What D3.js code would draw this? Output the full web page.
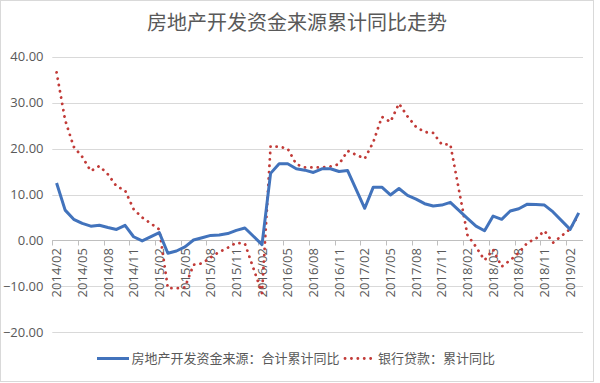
<!DOCTYPE html>
<html><head><meta charset="utf-8">
<script src="https://cdn.jsdelivr.net/npm/d3@7"></script>
<style>
html,body{margin:0;padding:0;background:#fff;}
text{font-family:"Open Sans","Noto Sans CJK SC",sans-serif;}
.cjk{font-family:"Noto Sans CJK SC","Noto Sans",sans-serif;}
</style></head>
<body>
<svg id="chart" width="600" height="383"></svg>
<script>
const categories = [
"2014/02","2014/03","2014/04","2014/05","2014/06","2014/07","2014/08","2014/09","2014/10","2014/11","2014/12",
"2015/01","2015/02","2015/03","2015/04","2015/05","2015/06","2015/07","2015/08","2015/09","2015/10","2015/11","2015/12",
"2016/01","2016/02","2016/03","2016/04","2016/05","2016/06","2016/07","2016/08","2016/09","2016/10","2016/11","2016/12",
"2017/01","2017/02","2017/03","2017/04","2017/05","2017/06","2017/07","2017/08","2017/09","2017/10","2017/11","2017/12",
"2018/01","2018/02","2018/03","2018/04","2018/05","2018/06","2018/07","2018/08","2018/09","2018/10","2018/11","2018/12",
"2019/01","2019/02","2019/03"];
const fundSource = [
12.5,6.6,4.6,3.7,3.1,3.3,2.8,2.4,3.3,0.8,-0.1,
null,1.7,-2.8,-2.3,-1.4,0.1,0.6,1.1,1.2,1.5,2.2,2.7,
null,-0.9,14.6,16.7,16.7,15.6,15.3,14.8,15.6,15.6,15.0,15.2,
null,7.0,11.6,11.6,9.9,11.3,9.8,9.0,8.0,7.5,7.7,8.3,
null,4.8,3.1,2.1,5.3,4.6,6.4,6.9,7.9,7.8,7.7,6.2,
null,2.4,6.0];
const bankLoan = [
36.6,26.2,20.4,18.2,15.1,16.2,14.4,11.8,10.9,6.8,5.0,
null,2.4,-10.4,-10.4,-10.2,-5.3,-5.0,-3.7,-2.5,-1.6,-0.5,-0.7,
null,-11.5,20.5,20.4,20.0,16.6,15.9,15.9,15.9,16.1,16.6,19.5,
null,17.8,21.4,26.9,25.8,29.8,27.0,24.7,23.6,23.4,20.9,20.9,
null,1.2,-1.4,-4.3,-2.0,-5.7,-4.3,-2.7,-0.5,0.4,2.1,-0.5,
null,2.5,5.6];
const yTicks = [-20,-10,0,10,20,30,40];
const title = "房地产开发资金来源累计同比走势";
const seriesNames = ["房地产开发资金来源：合计累计同比","银行贷款：累计同比"];

const svg = d3.select("#chart");
const pLeft = 52.3, pRight = 583, pTop = 56.7, pBottom = 332.3;
const x = d3.scaleBand().domain(categories).range([pLeft, pRight]).padding(0);
const y = d3.scaleLinear().domain([-20, 40]).range([pBottom, pTop]);
const cx = c => x(c) + x.bandwidth() / 2;

svg.append("rect").attr("x",0.5).attr("y",0.5).attr("width",593).attr("height",381)
  .attr("fill","#fff").attr("stroke","#d9d9d9");

// gridlines
svg.append("g").selectAll("line").data(yTicks).join("line")
  .attr("x1", pLeft).attr("x2", pRight)
  .attr("y1", d => Math.round(y(d)) + 0.5).attr("y2", d => Math.round(y(d)) + 0.5)
  .attr("stroke", "#d9d9d9").attr("stroke-width", 1);

// y labels
svg.append("g").selectAll("text").data(yTicks).join("text")
  .attr("x", 43.5).attr("y", d => y(d)).attr("dy", "0.35em")
  .attr("text-anchor", "end").attr("font-size", 13).attr("fill", "#595959")
  .text(d => d3.format(".2f")(d));

// x axis at zero
const y0 = Math.round(y(0)) + 0.5;
svg.append("line").attr("x1", pLeft).attr("x2", pRight).attr("y1", y0).attr("y2", y0)
  .attr("stroke", "#bfbfbf");
const tickCats = categories.filter((c, i) => i % 3 === 0);
svg.append("g").selectAll("line").data(tickCats).join("line")
  .attr("x1", d => Math.round(x(d)) + 0.5).attr("x2", d => Math.round(x(d)) + 0.5)
  .attr("y1", y0).attr("y2", y0 + 5).attr("stroke", "#bfbfbf");
svg.append("g").selectAll("text").data(tickCats).join("text")
  .attr("transform", d => `translate(${cx(d)},248) rotate(-90)`)
  .attr("dy", "0.35em").attr("text-anchor", "end")
  .attr("font-size", 13).attr("fill", "#595959")
  .text(d => d);

// lines
const line = d3.line().x(d => cx(d.c)).y(d => y(d.v));
const pts = arr => categories.map((c, i) => ({c, v: arr[i]})).filter(d => d.v != null);
svg.append("path").datum(pts(bankLoan)).attr("d", line)
  .attr("fill", "none").attr("stroke", "#c23b38").attr("stroke-width", 2.8)
  .attr("stroke-dasharray", "0.1 6.3").attr("stroke-linecap", "round").attr("stroke-linejoin","round");
svg.append("path").datum(pts(fundSource)).attr("d", line)
  .attr("fill", "none").attr("stroke", "#4273bc").attr("stroke-width", 3)
  .attr("stroke-linejoin", "round");

// title
svg.append("text").attr("class","cjk").attr("x", 297).attr("y", 30)
  .attr("text-anchor", "middle").attr("font-size", 20).attr("fill", "#595959")
  .text(title);

// legend
const lg = svg.append("g");
lg.append("line").attr("x1", 97).attr("x2", 129).attr("y1", 358.5).attr("y2", 358.5)
  .attr("stroke", "#4273bc").attr("stroke-width", 3);
lg.append("text").attr("class","cjk").attr("x", 131.5).attr("y", 358.5).attr("dy","0.36em")
  .attr("font-size", 13).attr("fill", "#595959").text(seriesNames[0]);
lg.append("line").attr("x1", 345).attr("x2", 372).attr("y1", 358.5).attr("y2", 358.5)
  .attr("stroke", "#c23b38").attr("stroke-width", 2.8)
  .attr("stroke-dasharray", "0.1 6.3").attr("stroke-linecap", "round");
lg.append("text").attr("class","cjk").attr("x", 378).attr("y", 358.5).attr("dy","0.36em")
  .attr("font-size", 13).attr("fill", "#595959").text(seriesNames[1]);
</script>
</body></html>
